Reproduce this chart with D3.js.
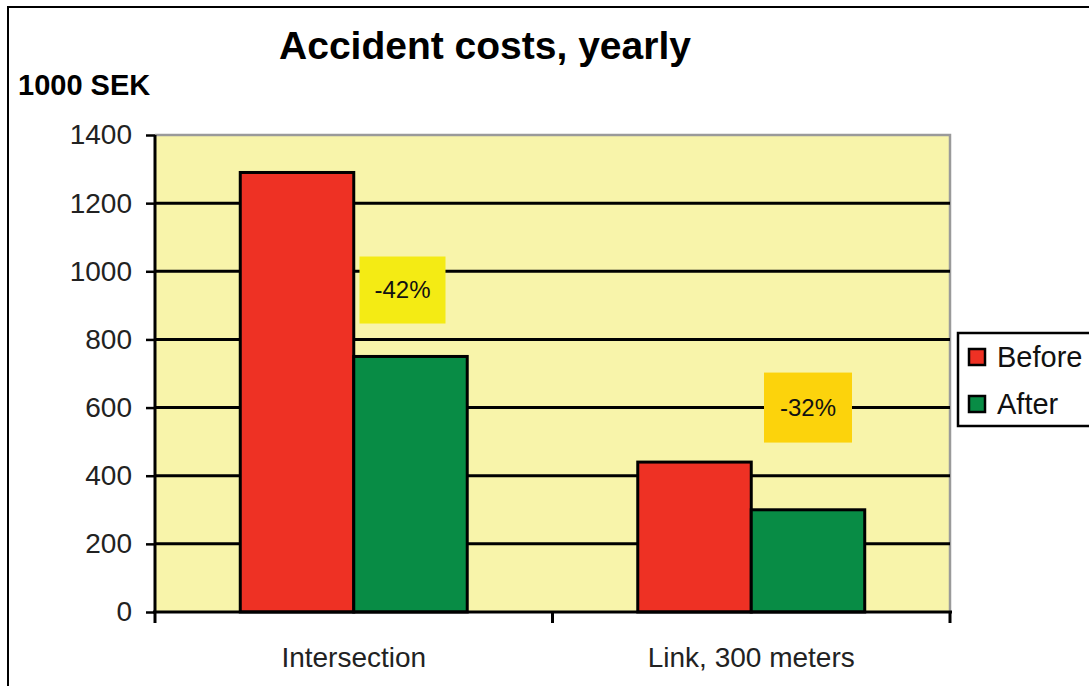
<!DOCTYPE html>
<html><head><meta charset="utf-8">
<script src="https://cdn.jsdelivr.net/npm/d3@7"></script>
<style>body{margin:0;background:#fff;}svg{display:block;font-family:"Liberation Sans",Arial,sans-serif;}</style>
</head><body><svg id="c" width="1089" height="686"></svg>
<script>
const categories = ["Intersection", "Link, 300 meters"];
const seriesNames = ["Before", "After"];
const beforeValues = [1290, 440];
const afterValues = [750, 300];
const yTicks = [0, 200, 400, 600, 800, 1000, 1200, 1400];
const annotationLabels = ["-42%", "-32%"];
const annotationValues = [945, 600];
const colors = {Before: "#EE3124", After: "#088C45"};
const annColors = ["#F4EB14", "#FCD30C"];

const svg = d3.select("#c");
const L = 155, R = 950, T = 135, B = 612;
const y = d3.scaleLinear().domain([0, 1400]).range([B, T]);
const x0 = d3.scaleBand().domain(categories).range([L, R]);
const bw = x0.bandwidth(), gw = bw * 0.571;
const x1 = d3.scaleBand().domain(seriesNames).range([(bw - gw) / 2, (bw + gw) / 2]);

// outer frame
svg.append("rect").attr("x", 8).attr("y", 7).attr("width", 1100).attr("height", 700)
  .attr("fill", "#fff").attr("stroke", "#000").attr("stroke-width", 2);

// plot bg
svg.append("rect").attr("x", L).attr("y", T).attr("width", R - L).attr("height", B - T).attr("fill", "#F8F4AA");
// top/right border gray
svg.append("path").attr("d", `M${L},${T}H${R}V${B}`).attr("fill", "none").attr("stroke", "#9a9a9a").attr("stroke-width", 2.5);

// grid lines
svg.append("g").selectAll("line").data(yTicks.filter(d => d > 0 && d < 1400)).join("line")
  .attr("x1", L).attr("x2", R).attr("y1", d => y(d)).attr("y2", d => y(d))
  .attr("stroke", "#000").attr("stroke-width", 3);

// bars
const data = categories.map((c, i) => ({cat: c, vals: [{s: "Before", v: beforeValues[i]}, {s: "After", v: afterValues[i]}]}));
const g = svg.append("g");
g.selectAll("g").data(data).join("g").attr("transform", d => `translate(${x0(d.cat)},0)`)
  .selectAll("rect").data(d => d.vals).join("rect")
  .attr("x", d => x1(d.s)).attr("width", x1.bandwidth())
  .attr("y", d => y(d.v)).attr("height", d => y(0) - y(d.v))
  .attr("fill", d => colors[d.s]).attr("stroke", "#000").attr("stroke-width", 3);

// annotations
annotationLabels.forEach((lab, i) => {
  const cx = x0(categories[i]) + x1("After") + x1.bandwidth() / 2 + (i === 0 ? -8 : 0);
  const cy = y(annotationValues[i]);
  const w = i === 0 ? 86 : 88, h = i === 0 ? 67 : 70;
  svg.append("rect").attr("x", cx - w / 2).attr("y", cy - h / 2).attr("width", w).attr("height", h).attr("fill", annColors[i]);
  svg.append("text").attr("x", cx).attr("y", cy + 8).attr("text-anchor", "middle")
    .attr("font-size", 24).attr("fill", "#111").text(lab);
});

// y axis
const yAxis = svg.append("g").attr("transform", `translate(${L},0)`)
  .call(d3.axisLeft(y).tickValues(yTicks).tickSize(9).tickPadding(14).tickFormat(d3.format("d")));
yAxis.select(".domain").attr("stroke", "#000").attr("stroke-width", 3).attr("d", `M0,${T}V${B}`);
yAxis.selectAll(".tick line").attr("stroke", "#000").attr("stroke-width", 2.5);
yAxis.selectAll("text").attr("font-size", 28).attr("fill", "#222").attr("font-family", "Liberation Sans, Arial, sans-serif");

// x axis
const xAxisG = svg.append("g").attr("transform", `translate(0,${B})`);
xAxisG.append("line").attr("x1", L - 2).attr("x2", R + 2).attr("stroke", "#000").attr("stroke-width", 3);
const xTickPos = [L, ...categories.slice(1).map(c => x0(c)), R];
xAxisG.selectAll("line.t").data(xTickPos).join("line").attr("class", "t")
  .attr("x1", d => d).attr("x2", d => d).attr("y1", 0).attr("y2", 11).attr("stroke", "#000").attr("stroke-width", 3);
xAxisG.selectAll("text").data(categories).join("text")
  .attr("x", d => x0(d) + bw / 2).attr("y", 55).attr("text-anchor", "middle")
  .attr("font-size", 28).attr("fill", "#222").text(d => d);

// title
svg.append("text").attr("x", 485).attr("y", 59).attr("text-anchor", "middle")
  .attr("font-size", 39).attr("font-weight", "bold").attr("fill", "#000").text("Accident costs, yearly");
svg.append("text").attr("x", 18).attr("y", 95)
  .attr("font-size", 29).attr("font-weight", "bold").attr("fill", "#000").text("1000 SEK");

// legend
const lg = svg.append("g").attr("transform", "translate(958,333)");
lg.append("rect").attr("width", 150).attr("height", 93).attr("fill", "#fff").attr("stroke", "#000").attr("stroke-width", 2.5);
seriesNames.forEach((s, i) => {
  lg.append("rect").attr("x", 11).attr("y", 16 + i * 47).attr("width", 16).attr("height", 16)
    .attr("fill", colors[s]).attr("stroke", "#000").attr("stroke-width", 2.5);
  lg.append("text").attr("x", 39).attr("y", 34 + i * 47).attr("font-size", 29).attr("fill", "#111").text(s);
});
</script></body></html>
